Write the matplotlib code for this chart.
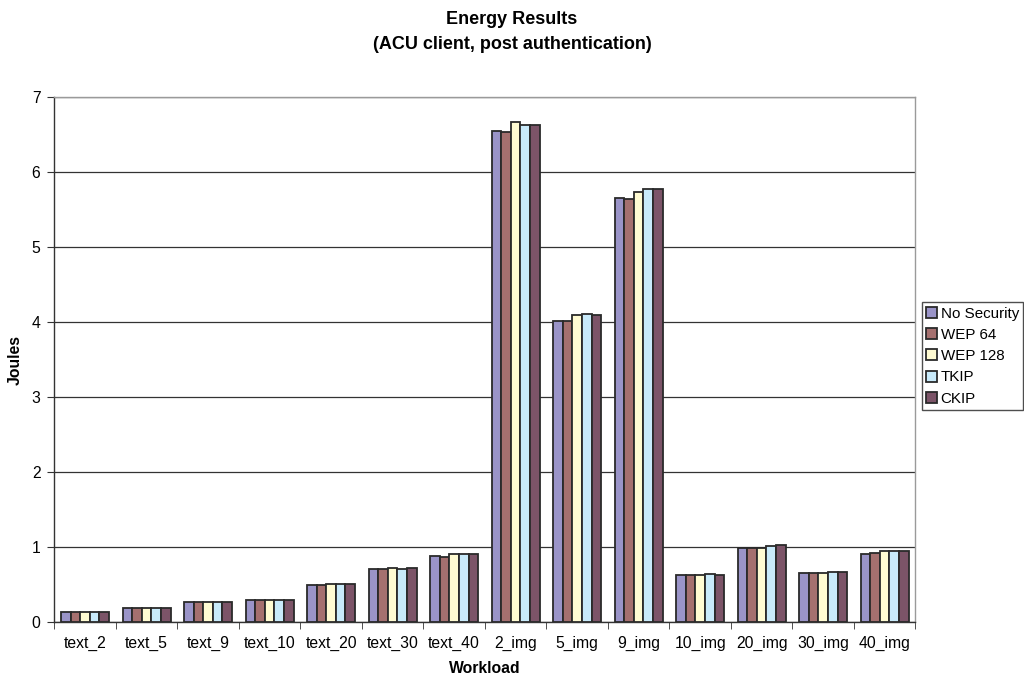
import matplotlib
matplotlib.use("Agg")
import matplotlib.pyplot as plt
import numpy as np

plt.rcParams['font.family'] = ['Liberation Sans', 'DejaVu Sans']

workloads = ["text_2", "text_5", "text_9", "text_10", "text_20", "text_30", "text_40",
             "2_img", "5_img", "9_img", "10_img", "20_img", "30_img", "40_img"]
series_names = ["No Security", "WEP 64", "WEP 128", "TKIP", "CKIP"]
no_security = [0.13, 0.18, 0.26, 0.29, 0.49, 0.70, 0.88, 6.55, 4.02, 5.65, 0.62, 0.99, 0.65, 0.91]
wep64 =       [0.13, 0.18, 0.26, 0.29, 0.49, 0.70, 0.87, 6.54, 4.02, 5.64, 0.63, 0.99, 0.65, 0.92]
wep128 =      [0.13, 0.18, 0.26, 0.29, 0.50, 0.72, 0.90, 6.67, 4.10, 5.74, 0.62, 0.98, 0.65, 0.94]
tkip =        [0.13, 0.19, 0.27, 0.29, 0.50, 0.71, 0.90, 6.63, 4.11, 5.77, 0.64, 1.01, 0.66, 0.94]
ckip =        [0.13, 0.18, 0.27, 0.29, 0.50, 0.72, 0.90, 6.63, 4.10, 5.78, 0.63, 1.02, 0.67, 0.94]
colors = ["#9a94c8", "#a5706f", "#fffbd2", "#c8eafa", "#7c5468"]

fig = plt.figure(figsize=(10.24, 6.79), dpi=100)
ax = fig.add_axes([0.053, 0.084, 0.841, 0.773])

x = np.arange(len(workloads))
group_w = 0.78
bw = group_w / 5
for i, (name, vals, c) in enumerate(zip(series_names, [no_security, wep64, wep128, tkip, ckip], colors)):
    ax.bar(x - group_w / 2 + bw * (i + 0.5), vals, width=bw, color=c,
           edgecolor="#2a2a2a", linewidth=1.3, label=name, zorder=3)

ax.set_xlim(-0.5, len(workloads) - 0.5)
ax.set_ylim(0, 7)
ax.set_yticks(range(8))
ax.yaxis.grid(True, color="#333333", linewidth=0.9, zorder=0)
ax.set_xticks(x)
ax.set_xticklabels(workloads, fontsize=11.3)
ax.tick_params(axis='x', length=0, pad=10)
ax.set_xticks(np.arange(-0.5, len(workloads), 1), minor=True)
ax.tick_params(axis='x', which='minor', length=5, color="#333333", direction='out')
ax.tick_params(axis='y', labelsize=11.3, length=5, color="#333333", direction='out', pad=5)

for s in ["top", "right"]:
    ax.spines[s].set_color("#9a9a9a")
    ax.spines[s].set_linewidth(1.0)
for s in ["left", "bottom"]:
    ax.spines[s].set_color("#333333")
    ax.spines[s].set_linewidth(1.0)

ax.set_xlabel("Workload", fontsize=11.3, fontweight="bold", labelpad=7)
ax.set_ylabel("Joules", fontsize=11.3, fontweight="bold", labelpad=6)

fig.text(0.5, 0.972, "Energy Results", ha="center", va="center", fontsize=13, fontweight="bold")
fig.text(0.5, 0.935, "(ACU client, post authentication)", ha="center", va="center", fontsize=13, fontweight="bold")

leg = fig.legend(loc="upper left", bbox_to_anchor=(0.9, 0.555), fontsize=10.9,
                 frameon=True, fancybox=False, edgecolor="#222222",
                 handlelength=0.75, handleheight=0.75, handletextpad=0.2,
                 borderpad=0.3, labelspacing=0.48, borderaxespad=0)
leg.get_frame().set_linewidth(1.0)

fig.savefig("out.png", dpi=100)
